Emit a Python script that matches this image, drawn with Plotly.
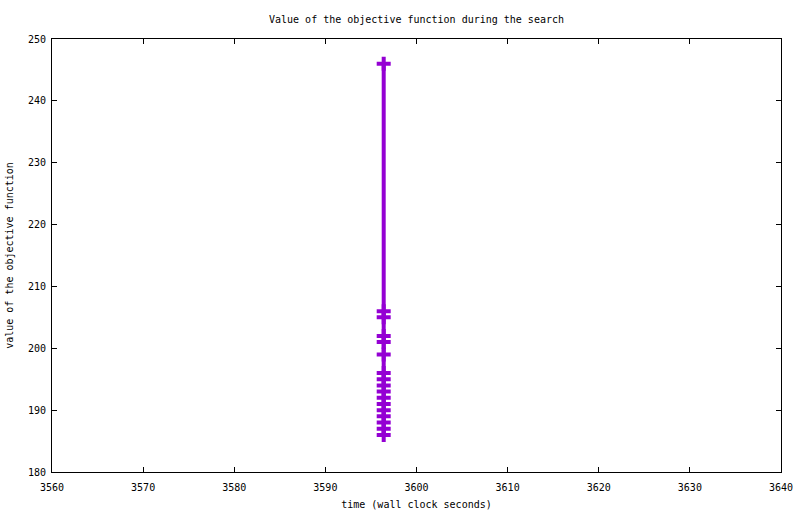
import plotly.graph_objects as go

# Data
times = [3596.4] * 17
values = [246, 206, 205, 202, 201, 199, 196, 195, 194, 193, 192, 191, 190, 189, 188, 187, 186]

x_ticks = [3560, 3570, 3580, 3590, 3600, 3610, 3620, 3630, 3640]
y_ticks = [180, 190, 200, 210, 220, 230, 240, 250]

color = "#9400D3"
font = "DejaVu Sans Mono"

fig = go.Figure()
fig.add_trace(go.Scatter(
    x=times, y=values, mode="lines+markers",
    line=dict(color=color, width=4),
    marker=dict(symbol="cross-thin", size=10, color=color,
                line=dict(color=color, width=4)),
    showlegend=False,
))

axis_common = dict(
    showgrid=False, zeroline=False, showline=True, linecolor="black", linewidth=1,
    mirror="ticks", ticks="inside", ticklen=5, tickcolor="black", tickwidth=1,
    tickfont=dict(family=font, size=10, color="black"), automargin=False,
)

fig.update_layout(
    width=800, height=514,
    margin=dict(l=52, r=19, t=39, b=42, autoexpand=False),
    paper_bgcolor="white", plot_bgcolor="white",
    title=dict(text="Value of the objective function during the search",
               xref="paper", x=0.5, xanchor="center", y=0.963, yanchor="middle",
               font=dict(family=font, size=10, color="black")),
    xaxis=dict(range=[3560, 3640], tickvals=x_ticks, ticklabelstandoff=6, **axis_common,
               title=dict(text="time (wall clock seconds)", standoff=8,
                          font=dict(family=font, size=10, color="black"))),
    yaxis=dict(range=[180, 250], tickvals=y_ticks, ticklabelstandoff=3, **axis_common,
               title=dict(text="value of the objective function", standoff=12,
                          font=dict(family=font, size=10, color="black"))),
)

fig.write_html("out.html", config={"displayModeBar": False},
               post_script="document.body.style.margin='0';document.body.style.padding='0';")
